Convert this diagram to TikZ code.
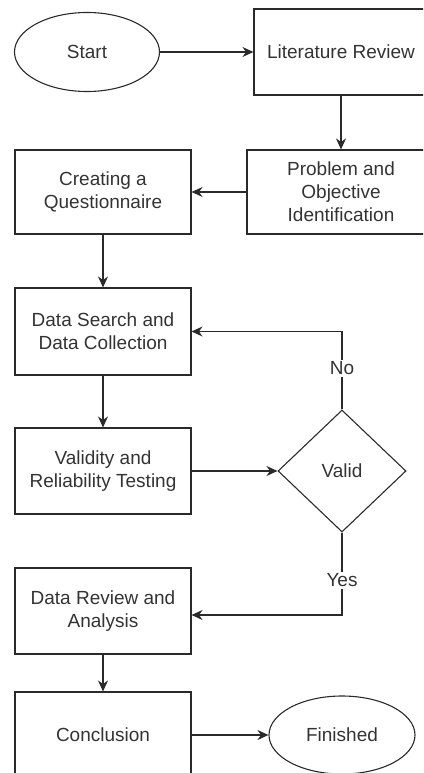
\documentclass[tikz,border=0pt]{standalone}
\usepackage{fontspec}
\setmainfont{Liberation Sans}
\usetikzlibrary{shapes.geometric,arrows.meta}
\definecolor{ln}{HTML}{2a2a2a}
\definecolor{tx}{HTML}{333333}
\begin{document}
\begin{tikzpicture}[x=1pt,y=-1pt,
  every node/.style={font=\fontsize{19}{23}\selectfont, text=tx, align=center, inner sep=0pt},
  box/.style={draw=ln, line width=1.1pt, rectangle, minimum width=176pt, minimum height=86pt},
  oval/.style={draw=ln, line width=1.1pt, ellipse, minimum width=145pt, minimum height=79pt},
  decision/.style={draw=ln, line width=1.1pt, diamond, minimum width=128pt, minimum height=122pt},
  conn/.style={draw=ln, line width=1.1pt, -{Stealth[length=11pt,width=10pt]}},
  lbl/.style={fill=white, inner sep=2pt}]
\useasboundingbox (0,0) rectangle (423,773);
\clip (0,0) rectangle (423,773);
\node[oval] (start) at (87,52) {Start};
\node[box, minimum width=174pt] (lit) at (341,52) {Literature Review};
\node[box, minimum width=188pt, minimum height=84pt] (prob) at (341,192) {Problem and\\Objective\\Identification};
\node[box, minimum height=84pt] (quest) at (103,192) {Creating a\\Questionnaire};
\node[box, minimum height=87pt] (search) at (103,331.5) {Data Search and\\Data Collection};
\node[box] (test) at (103,471) {Validity and\\Reliability Testing};
\node[decision] (dia) at (342,471) {Valid};
\node[box] (review) at (103,611) {Data Review and\\Analysis};
\node[box] (concl) at (103,735) {Conclusion};
\node[oval, minimum width=146pt, minimum height=78pt] (fin) at (342,735) {Finished};
\coordinate (revin) at ([yshift=-4pt]review.east);
\draw[conn] (start) -- (lit);
\draw[conn] (lit.south) -- (prob.north);
\draw[conn] (prob.west) -- (quest.east);
\draw[conn] (quest) -- (search);
\draw[conn] (search) -- (test);
\draw[conn] (test) -- (dia);
\draw[conn] (dia.north) |- node[lbl, pos=0.265] {No} (search.east);
\draw[conn] (dia.south) |- node[lbl, pos=0.29] {Yes} (revin);
\draw[conn] (review) -- (concl);
\draw[conn] (concl) -- (fin);
\end{tikzpicture}
\end{document}
